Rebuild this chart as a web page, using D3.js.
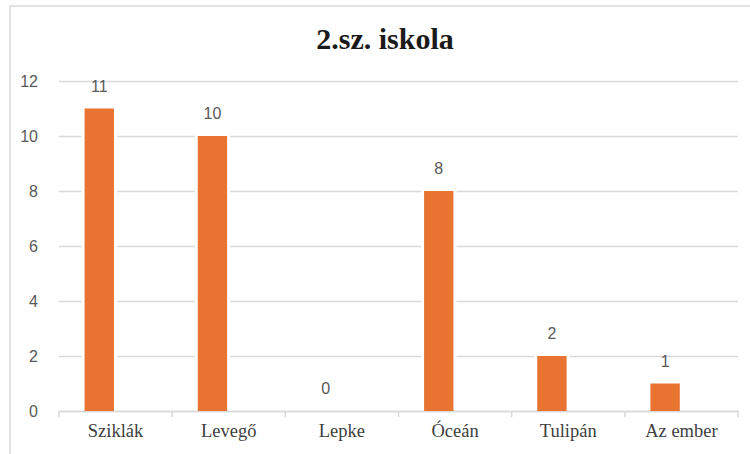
<!DOCTYPE html>
<html>
<head>
<meta charset="utf-8">
<script src="https://cdn.jsdelivr.net/npm/d3@7"></script>
<style>
  body { margin: 0; background: #fff; }
</style>
</head>
<body>
<svg width="750" height="454"></svg>
<script>
// chart data
var categories = ["Sziklák", "Levegő", "Lepke", "Óceán", "Tulipán", "Az ember"]
var values = [11, 10, 0, 8, 2, 1]
var yTicks = [0, 2, 4, 6, 8, 10, 12]
var series = ["2.sz. iskola", ""]

var serif = "'Liberation Serif', 'Times New Roman', Times, serif"
var sans = "'Liberation Sans', Arial, sans-serif"

var size = { width: 750, height: 454 }
var margins = { left: 59, right: 12, top: 81, bottom: 43 }
var graph = {
    width: size.width - margins.left - margins.right,
    height: size.height - margins.top - margins.bottom
}

var svg = d3.select("svg")

// outer chart frame (only top and left edges are visible)
svg.append("path")
    .attr("d", "M10,454 L10,6 L750,6")
    .attr("fill", "none")
    .attr("stroke", "#d9d9d9")
    .attr("stroke-width", 1.5)

var xScale = d3.scaleBand()
    .domain(categories)
    .range([0, graph.width])

var bw = xScale.bandwidth()
// two series per group, the second one is empty
var inner = d3.scaleBand()
    .domain(series)
    .range([bw / 2 - 31, bw / 2 + 31])
    .paddingInner(0.1)

var yScale = d3.scaleLinear()
    .domain([0, 12])
    .range([graph.height, 0])

var target = svg.append("g")
    .attr("transform", "translate(" + margins.left + "," + margins.top + ")")

// y axis + gridlines
var yAxis = d3.axisLeft(yScale)
    .tickValues(yTicks)
    .tickSize(-graph.width)
    .tickPadding(21)

var yg = target.append("g")
    .call(yAxis)
yg.select(".domain").remove()
yg.selectAll("line").attr("stroke", "#d9d9d9").attr("stroke-width", 1.5)
yg.selectAll("text")
    .style("font-family", sans)
    .style("font-size", "16px")
    .attr("fill", "#595959")

// category axis tick marks at band edges
var edges = categories.map(function (c) { return xScale(c) }).concat([graph.width])
target.selectAll(".edge")
    .data(edges)
    .enter()
    .append("line")
    .attr("x1", function (d) { return d })
    .attr("x2", function (d) { return d })
    .attr("y1", graph.height)
    .attr("y2", graph.height + 6)
    .attr("stroke", "#d9d9d9")
    .attr("stroke-width", 1.5)

var xg = target.append("g")
    .attr("transform", "translate(0," + graph.height + ")")
    .call(d3.axisBottom(xScale).tickSize(0).tickPadding(13))
xg.select(".domain").attr("stroke", "#d9d9d9").attr("stroke-width", 1.5)
xg.selectAll("text")
    .style("font-family", serif)
    .style("font-size", "18.5px")
    .attr("fill", "#404040")

// bars (white halo behind them)
var bars = target.selectAll(".bar")
    .data(values)
    .enter()
    .append("g")
    .classed("bar", true)
    .attr("transform", function (d, i) { return "translate(" + (xScale(categories[i]) + inner(series[0])) + ",0)" })

bars.filter(function (d) { return d > 0 })
    .append("rect")
    .attr("x", -3)
    .attr("y", function (d) { return yScale(d) - 3 })
    .attr("width", inner.bandwidth() + 6)
    .attr("height", function (d) { return graph.height - yScale(d) + 2 })
    .attr("fill", "#fff")

bars.append("rect")
    .attr("x", 0)
    .attr("y", function (d) { return yScale(d) })
    .attr("width", inner.bandwidth())
    .attr("height", function (d) { return graph.height - yScale(d) })
    .attr("fill", "#e97431")

bars.append("text")
    .attr("x", inner.bandwidth() / 2)
    .attr("y", function (d) { return yScale(d) - 17 })
    .attr("text-anchor", "middle")
    .style("font-family", sans)
    .style("font-size", "16px")
    .attr("fill", "#595959")
    .text(function (d) { return d })

// title
svg.append("text")
    .attr("x", 385)
    .attr("y", 49)
    .attr("text-anchor", "middle")
    .style("font-family", serif)
    .style("font-size", "30px")
    .style("font-weight", "bold")
    .attr("fill", "#1a1a1a")
    .text(series[0])
</script>
</body>
</html>
